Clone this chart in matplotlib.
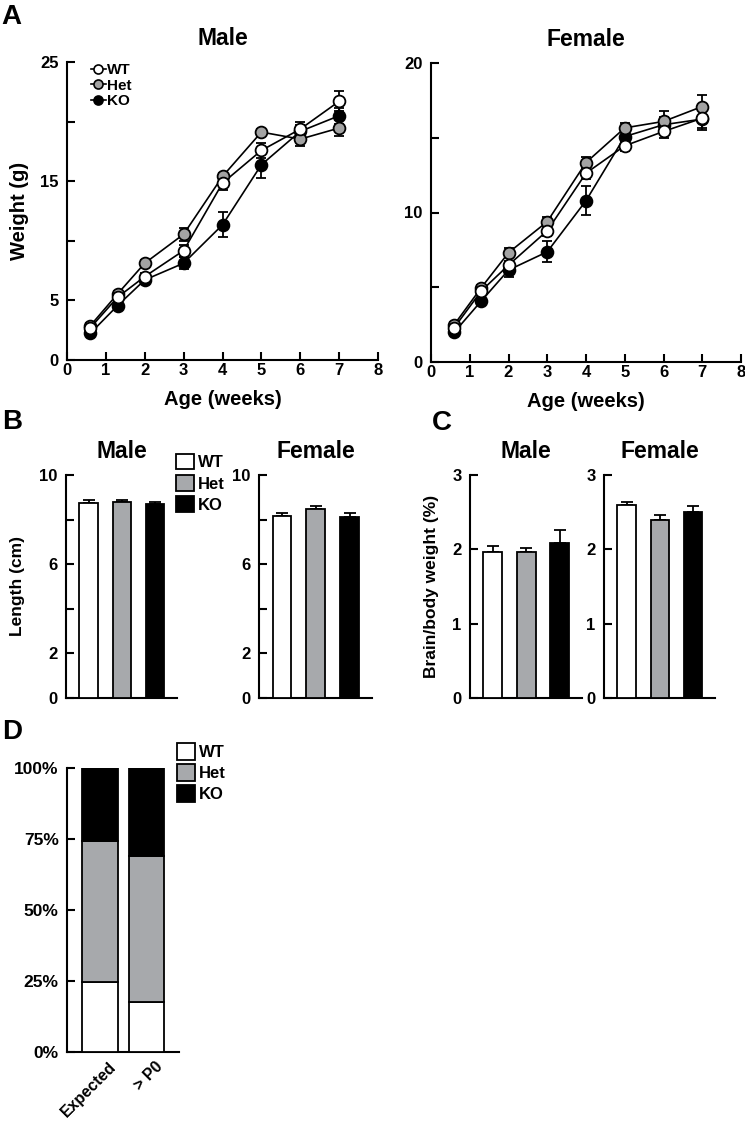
import matplotlib
matplotlib.use("Agg")
import matplotlib.pyplot as plt
from matplotlib.lines import Line2D
from matplotlib.patches import Patch
from matplotlib.transforms import ScaledTranslation
import numpy as np

plt.rcParams['font.family'] = ['Liberation Sans', 'DejaVu Sans']
plt.rcParams['font.weight'] = 'bold'
plt.rcParams['axes.labelweight'] = 'bold'
plt.rcParams['axes.titleweight'] = 'bold'

# ---------------- data ----------------
genotypes = ['WT', 'Het', 'KO']
age_weeks = [0.6, 1.3, 2, 3, 4, 5, 6, 7]

male_wt = [2.7, 5.26, 7.0, 9.18, 14.84, 17.58, 19.37, 21.7]
male_het = [2.88, 5.54, 8.12, 10.55, 15.4, 19.12, 18.53, 19.46]
male_ko = [2.24, 4.56, 6.72, 8.12, 11.34, 16.38, 19.18, 20.49]
male_wt_err = [0.2, 0.25, 0.3, 0.5, 0.6, 0.6, 0.6, 0.85]
male_het_err = [0.2, 0.25, 0.3, 0.55, 0.3, 0.3, 0.6, 0.7]
male_ko_err = [0.15, 0.25, 0.3, 0.5, 1.05, 1.1, 0.5, 0.65]

female_wt = [2.3, 4.76, 6.48, 8.78, 12.63, 14.46, 15.42, 16.31]
female_het = [2.5, 4.98, 7.31, 9.39, 13.34, 15.66, 16.09, 17.09]
female_ko = [1.99, 4.09, 6.15, 7.37, 10.79, 15.08, 15.87, 16.25]
female_wt_err = [0.15, 0.2, 0.3, 0.35, 0.4, 0.35, 0.45, 0.8]
female_het_err = [0.15, 0.2, 0.3, 0.3, 0.4, 0.3, 0.67, 0.74]
female_ko_err = [0.15, 0.2, 0.45, 0.7, 0.95, 0.5, 0.5, 0.6]

length_male = [8.74, 8.79, 8.68]
length_male_err = [0.16, 0.07, 0.13]
length_female = [8.16, 8.46, 8.13]
length_female_err = [0.12, 0.13, 0.16]

brain_male = [1.97, 1.97, 2.09]
brain_male_err = [0.076, 0.05, 0.17]
brain_female = [2.59, 2.39, 2.50]
brain_female_err = [0.045, 0.07, 0.085]

ratio_groups = ['Expected', '> P0']
ratio_wt = [24.5, 17.6]
ratio_het = [49.7, 51.4]
ratio_ko = [25.8, 31.0]

# ---------------- styles ----------------
W, H = 745, 1123
fig = plt.figure(figsize=(W / 100, H / 100), dpi=100)
GRAY_M = '#a3a3a3'
GRAY_B = '#a7a9ac'
bar_colors = ['white', GRAY_B, 'black']
LW = 1.5
TICK_FS = 12
TITLE_FS = 16.5


def add_ax(left, top, right, bottom):
    return fig.add_axes([left / W, 1 - bottom / H, (right - left) / W, (bottom - top) / H])


def style(ax, ylim, yticks, ylabels, xaxis=True):
    for s in ['top', 'right']:
        ax.spines[s].set_visible(False)
    for s in ['left', 'bottom']:
        ax.spines[s].set_linewidth(LW)
    ax.set_ylim(*ylim)
    ax.set_yticks(yticks)
    ax.set_yticklabels(ylabels)
    ax.tick_params(axis='y', direction='in', length=6, width=LW, pad=6, labelsize=TICK_FS)
    if xaxis:
        ax.tick_params(axis='x', direction='in', length=6, width=LW, pad=2, labelsize=TICK_FS)
    else:
        ax.tick_params(axis='x', length=0, labelbottom=False)


def line_panel(ax, wt, het, ko, wt_e, het_e, ko_e):
    series = [(ko, ko_e, 'black', 'KO', 4), (het, het_e, GRAY_M, 'Het', 5), (wt, wt_e, 'white', 'WT', 6)]
    for y, e, c, lab, z in series:
        ax.errorbar(age_weeks, y, yerr=e, fmt='none', ecolor='black', elinewidth=1.3,
                    capsize=3.5, capthick=1.3, zorder=2)
    for y, e, c, lab, z in series:
        ax.plot(age_weeks, y, '-', color='black', lw=1.2, zorder=3)
    for y, e, c, lab, z in series:
        ax.plot(age_weeks, y, 'o', ms=8.5, mfc=c, mec='black', mew=1.3, zorder=z, label=lab)
    ax.set_xlim(0, 8)
    ax.set_xticks(range(0, 9))
    ax.set_xlabel('Age (weeks)', fontsize=14.5, labelpad=9)


# ---------------- Panel A ----------------
axA1 = add_ax(67, 62, 378, 360)
line_panel(axA1, male_wt, male_het, male_ko, male_wt_err, male_het_err, male_ko_err)
style(axA1, (0, 25), [0, 5, 10, 15, 20, 25], ['0', '5', '', '15', '', '25'])
axA1.set_ylabel('Weight (g)', fontsize=14.5, labelpad=8)
axA1.set_title('Male', fontsize=TITLE_FS, pad=12)
handles = [Line2D([], [], color='black', lw=1.2, marker='o', ms=6.5, mfc=c, mec='black', mew=1.2)
           for c in ['white', GRAY_M, 'black']]
axA1.legend(handles, genotypes, loc='upper left', bbox_to_anchor=(91 / W, 1 - 63 / H),
            bbox_transform=fig.transFigure, frameon=False, fontsize=11, handlelength=0.95,
            handletextpad=0.1, labelspacing=0.1, borderpad=0, borderaxespad=0)

axA2 = add_ax(431, 63, 741, 362)
line_panel(axA2, female_wt, female_het, female_ko, female_wt_err, female_het_err, female_ko_err)
style(axA2, (0, 20), [0, 5, 10, 15, 20], ['0', '', '10', '', '20'])
axA2.set_title('Female', fontsize=TITLE_FS, pad=12)


# ---------------- bar panels ----------------
def bar_panel(ax, vals, errs):
    x = np.arange(len(vals))
    ax.bar(x, vals, width=0.56, color=bar_colors, edgecolor='black', linewidth=1.3, zorder=3)
    ax.errorbar(x, vals, yerr=[np.zeros(len(errs)), errs], fmt='none', ecolor='black',
                elinewidth=1.3, capsize=4, capthick=1.3, zorder=2)
    ax.set_xlim(-0.68, 2.66)


axB1 = add_ax(66, 475, 177, 698)
bar_panel(axB1, length_male, length_male_err)
style(axB1, (0, 10), [0, 2, 4, 6, 8, 10], ['0', '2', '', '6', '', '10'], xaxis=False)
axB1.set_ylabel('Length (cm)', fontsize=12.5, labelpad=10)
axB1.set_title('Male', fontsize=TITLE_FS, pad=12)
bh = [Patch(facecolor=c, edgecolor='black', linewidth=1.3) for c in bar_colors]
axB1.legend(bh, genotypes, loc='upper left', bbox_to_anchor=(176 / W, 1 - 454 / H),
            bbox_transform=fig.transFigure, frameon=False, fontsize=12, handlelength=1.1,
            handleheight=1.05, handletextpad=0.2, labelspacing=0.28, borderpad=0, borderaxespad=0)

axB2 = add_ax(259, 475, 372, 698)
bar_panel(axB2, length_female, length_female_err)
style(axB2, (0, 10), [0, 2, 4, 6, 8, 10], ['0', '2', '', '6', '', '10'], xaxis=False)
axB2.set_title('Female', fontsize=TITLE_FS, pad=12)

axC1 = add_ax(470, 475, 582, 698)
bar_panel(axC1, brain_male, brain_male_err)
style(axC1, (0, 3), [0, 1, 2, 3], ['0', '1', '2', '3'], xaxis=False)
axC1.set_ylabel('Brain/body weight (%)', fontsize=12.5, labelpad=10)
axC1.set_title('Male', fontsize=TITLE_FS, pad=12)

axC2 = add_ax(604, 475, 715, 698)
bar_panel(axC2, brain_female, brain_female_err)
style(axC2, (0, 3), [0, 1, 2, 3], ['0', '1', '2', '3'], xaxis=False)
axC2.set_title('Female', fontsize=TITLE_FS, pad=12)

# ---------------- Panel D ----------------
axD = add_ax(67, 768, 179, 1052)
xd = np.arange(len(ratio_groups))
b1 = np.array(ratio_wt)
b2 = b1 + np.array(ratio_het)
axD.bar(xd, ratio_wt, width=0.77, color='white', edgecolor='black', linewidth=1.3, zorder=3)
axD.bar(xd, ratio_het, bottom=b1, width=0.77, color=GRAY_B, edgecolor='black', linewidth=1.3, zorder=3)
axD.bar(xd, ratio_ko, bottom=b2, width=0.77, color='black', edgecolor='black', linewidth=1.3, zorder=3)
axD.set_xlim(-0.71, 1.70)
style(axD, (0, 100), [0, 25, 50, 75, 100], ['0%', '25%', '50%', '75%', '100%'])
axD.tick_params(axis='x', length=0, pad=5)
axD.set_xticks(xd)
axD.set_xticklabels(ratio_groups, rotation=45, ha='right', va='top', rotation_mode='anchor',
                    fontsize=11.5)
for lbl in axD.get_xticklabels():
    lbl.set_transform(lbl.get_transform() + ScaledTranslation(9 / 100, 0, fig.dpi_scale_trans))
axD.tick_params(axis='y', labelsize=12.5)
axD.legend(bh, genotypes, loc='upper left', bbox_to_anchor=(177 / W, 1 - 743 / H),
           bbox_transform=fig.transFigure, frameon=False, fontsize=12, handlelength=1.1,
           handleheight=1.15, handletextpad=0.2, labelspacing=0.25, borderpad=0, borderaxespad=0)

# ---------------- panel letters ----------------
for lab, x, y in [('A', 11, 17), ('B', 12, 422), ('C', 442, 423), ('D', 12, 732)]:
    fig.text(x / W, 1 - y / H, lab, fontsize=20, fontweight='bold', ha='center', va='center')

fig.savefig('out.png', dpi=100)
